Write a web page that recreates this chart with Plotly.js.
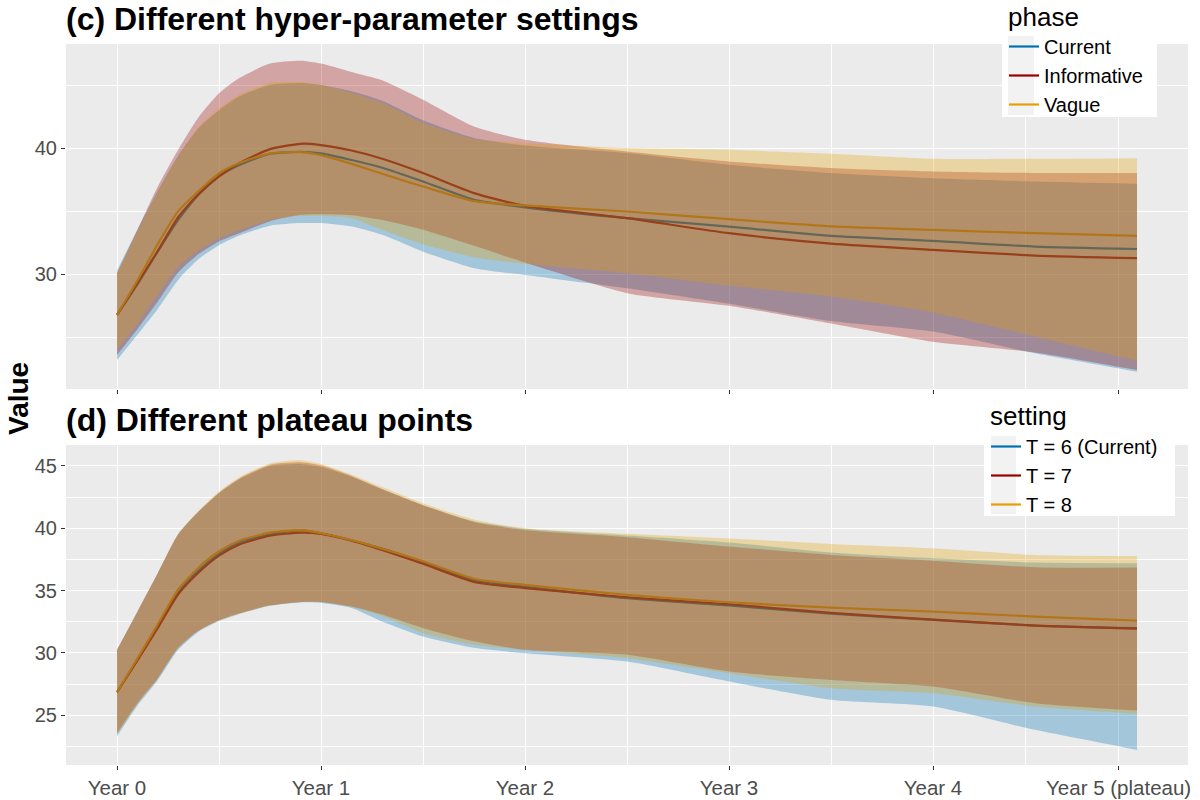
<!DOCTYPE html>
<html>
<head>
<meta charset="utf-8">
<script src="https://cdn.plot.ly/plotly-3.0.1.min.js"></script>
<style>body{margin:0;background:#fff}</style>
</head>
<body>
<div id="chart" style="width:1200px;height:800px"></div>
<script>
// time axis (years) and tick labels
var years = [0, 0.1, 0.2, 0.3, 0.4, 0.5, 0.6, 0.75, 0.9, 1.0, 1.15, 1.3, 1.5, 1.75, 2.0, 2.5, 3.0, 3.5, 4.0, 4.5, 5.0];
var tickVals = [0, 1, 2, 3, 4, 4.91];
var tickText = ['Year 0', 'Year 1', 'Year 2', 'Year 3', 'Year 4', 'Year 5 (plateau)'];

// (c) hyper-parameter settings: median, lower, upper
var cCurMid = [26.77, 29.2, 31.8, 34.3, 36.3, 37.75, 38.65, 39.55, 39.7, 39.58, 39.05, 38.44, 37.35, 35.9, 35.3, 34.44, 33.78, 33.04, 32.64, 32.19, 32.0];
var cCurLo  = [23.2, 25.2, 27.25, 29.55, 31.2, 32.3, 33.06, 33.85, 34.05, 34.05, 33.78, 33.12, 31.79, 30.48, 29.94, 28.89, 27.66, 26.29, 25.45, 23.73, 22.27];
var cCurHi  = [30.3, 33.55, 36.6, 39.4, 41.6, 43.0, 44.1, 45.0, 45.15, 45.0, 44.5, 43.75, 42.2, 40.8, 40.2, 39.6, 38.67, 38.02, 37.6, 37.35, 37.17];
var cInfMid = [26.77, 29.29, 31.85, 34.52, 36.37, 37.75, 38.81, 39.92, 40.34, 40.24, 39.81, 39.15, 38.02, 36.43, 35.42, 34.44, 33.25, 32.43, 31.93, 31.48, 31.27];
var cInfLo  = [23.6, 25.63, 27.83, 30.13, 31.6, 32.6, 33.25, 34.2, 34.71, 34.76, 34.68, 34.29, 33.52, 32.25, 30.92, 28.5, 27.5, 26.1, 24.65, 23.8, 22.4];
var cInfHi  = [30.08, 33.5, 36.95, 39.87, 42.45, 44.35, 45.56, 46.7, 46.93, 46.7, 46.03, 45.37, 43.83, 41.71, 40.66, 39.73, 38.94, 38.41, 38.14, 38.02, 38.02];
var cVagMid = [26.77, 29.5, 32.4, 35.0, 36.6, 38.0, 38.81, 39.58, 39.68, 39.44, 38.75, 37.96, 36.95, 35.79, 35.45, 34.97, 34.36, 33.8, 33.51, 33.25, 33.04];
var cVagLo  = [24.0, 26.1, 28.4, 30.6, 31.9, 32.85, 33.5, 34.3, 34.63, 34.63, 34.44, 33.52, 32.38, 31.35, 30.82, 30.08, 29.1, 28.23, 26.96, 25.06, 23.13];
var cVagHi  = [30.08, 33.38, 36.51, 39.33, 41.67, 43.15, 44.23, 45.16, 45.24, 45.02, 44.37, 43.57, 41.98, 40.71, 40.4, 40.0, 39.87, 39.55, 39.15, 39.15, 39.2];

// (d) plateau points: median, lower, upper
var dT6Mid = [26.84, 29.44, 32.11, 34.84, 36.6, 37.94, 38.85, 39.52, 39.85, 39.6, 39.04, 38.37, 37.3, 35.85, 35.32, 34.38, 33.8, 33.15, 32.65, 32.19, 31.98];
var dT6Lo  = [23.29, 25.75, 27.8, 30.25, 31.7, 32.55, 33.12, 33.78, 34.05, 34.0, 33.6, 32.51, 31.31, 30.4, 29.97, 29.3, 27.7, 26.23, 25.69, 23.82, 22.21];
var dT6Hi  = [30.24, 33.3, 36.39, 39.52, 41.34, 42.81, 43.93, 45.0, 45.16, 44.92, 44.14, 43.13, 41.85, 40.56, 39.95, 39.41, 38.85, 38.05, 37.59, 37.25, 37.19];
var dT7Mid = [26.84, 29.4, 32.0, 34.7, 36.45, 37.8, 38.7, 39.4, 39.65, 39.55, 39.0, 38.25, 37.15, 35.7, 35.2, 34.46, 33.9, 33.21, 32.67, 32.19, 31.95];
var dT7Lo  = [23.55, 25.96, 27.96, 30.4, 31.79, 32.62, 33.18, 33.82, 34.09, 34.09, 33.72, 33.07, 31.98, 30.93, 30.24, 29.84, 28.5, 27.83, 27.3, 25.96, 25.37];
var dT7Hi  = [30.24, 33.3, 36.39, 39.52, 41.34, 42.85, 44.0, 45.1, 45.3, 45.05, 44.2, 43.15, 41.85, 40.5, 39.85, 39.28, 38.53, 37.86, 37.4, 36.87, 36.84];
var dT8Mid = [26.84, 29.55, 32.3, 35.1, 36.85, 38.15, 39.0, 39.65, 39.85, 39.6, 39.05, 38.35, 37.35, 35.95, 35.45, 34.65, 34.06, 33.63, 33.31, 32.91, 32.59];
var dT8Lo  = [23.5, 25.9, 27.95, 30.4, 31.79, 32.6, 33.16, 33.8, 34.08, 34.08, 33.7, 32.95, 31.58, 30.67, 30.24, 29.57, 28.37, 27.16, 26.76, 25.69, 25.1];
var dT8Hi  = [30.24, 33.3, 36.4, 39.55, 41.4, 42.95, 44.1, 45.2, 45.45, 45.15, 44.3, 43.3, 42.0, 40.7, 40.0, 39.55, 39.17, 38.74, 38.39, 37.86, 37.78];

var phaseNames = ['Current', 'Informative', 'Vague'];
var settingNames = ['T = 6 (Current)', 'T = 7', 'T = 8'];

function BuildChart() {
    var cols = ['#0072B2', '#990000', '#E69F00'];
    var fills = ['rgba(0,114,178,0.3)', 'rgba(153,0,0,0.3)', 'rgba(230,159,0,0.3)'];
    var font = '"Liberation Sans", Arial, sans-serif';

    // paper coords from pixel position
    function px(x) { return (x - 66) / 1122; }
    function py(y) { return (765 - y) / 721; }

    var data = [];
    function addPanel(mids, los, his, names, xa, ya, lg) {
        // lines go first so the ribbons sit on top (as in the source)
        for (var i = 0; i < 3; i++) {
            data.push({x: years, y: mids[i], type: 'scatter', mode: 'lines', name: names[i],
                line: {color: cols[i], width: 2.2, shape: 'spline', smoothing: 0.6},
                xaxis: xa, yaxis: ya, legend: lg});
        }
        for (var j = 0; j < 3; j++) {
            data.push({x: years, y: los[j], type: 'scatter', mode: 'lines', showlegend: false,
                hoverinfo: 'skip', line: {width: 0, shape: 'spline', smoothing: 0.6}, xaxis: xa, yaxis: ya});
            data.push({x: years, y: his[j], type: 'scatter', mode: 'lines', showlegend: false,
                hoverinfo: 'skip', fill: 'tonexty', fillcolor: fills[j],
                line: {width: 0, shape: 'spline', smoothing: 0.6}, xaxis: xa, yaxis: ya});
        }
    }
    addPanel([cCurMid, cInfMid, cVagMid], [cCurLo, cInfLo, cVagLo], [cCurHi, cInfHi, cVagHi], phaseNames, 'x', 'y', 'legend');
    addPanel([dT6Mid, dT7Mid, dT8Mid], [dT6Lo, dT7Lo, dT8Lo], [dT6Hi, dT7Hi, dT8Hi], settingNames, 'x2', 'y2', 'legend2');

    var tickFont = {family: font, size: 20.5, color: '#4D4D4D'};
    var minorX = {tickmode: 'array', tickvals: [0.5, 1.5, 2.5, 3.5, 4.455], showgrid: true, gridcolor: '#FFFFFF', gridwidth: 0.7, ticks: ''};
    function xAxis(labels, anchor) {
        return {domain: [0, 1], anchor: anchor, range: [-0.25, 5.25], tickmode: 'array', tickvals: tickVals, ticktext: tickText,
            showticklabels: labels, ticks: 'outside', ticklen: 4, tickcolor: '#333333', tickfont: tickFont,
            showgrid: true, gridcolor: '#FFFFFF', gridwidth: 1.4, zeroline: false, showline: false, minor: minorX};
    }
    function yAxis(dom, rng, vals, minorVals, anchor) {
        return {domain: dom, anchor: anchor, range: rng, tickmode: 'array', tickvals: vals, ticks: 'outside', ticklen: 4,
            tickcolor: '#333333', tickfont: {family: font, size: 20, color: '#4D4D4D'}, showgrid: true, gridcolor: '#FFFFFF', gridwidth: 1.4,
            zeroline: false, showline: false,
            minor: {tickmode: 'array', tickvals: minorVals, showgrid: true, gridcolor: '#FFFFFF', gridwidth: 0.7, ticks: ''}};
    }

    var legendBase = {xanchor: 'left', yanchor: 'top', bgcolor: 'rgba(0,0,0,0)', borderwidth: 0, traceorder: 'normal',
        font: {family: font, size: 20, color: '#000000'}, tracegroupgap: 0};

    var layout = {
        width: 1200, height: 800,
        margin: {l: 66, r: 12, t: 44, b: 35},
        paper_bgcolor: '#FFFFFF', plot_bgcolor: '#EBEBEB',
        font: {family: font},
        xaxis: xAxis(false, 'y'),
        yaxis: yAxis([py(389), 1], [20.9, 48.25], [30, 40], [25, 35, 45], 'x'),
        xaxis2: xAxis(true, 'y2'),
        yaxis2: yAxis([0, py(445)], [21.0, 46.68], [25, 30, 35, 40, 45], [22.5, 27.5, 32.5, 37.5, 42.5], 'x2'),
        legend: Object.assign({}, legendBase, {x: px(1004), y: py(27)}),
        legend2: Object.assign({}, legendBase, {x: px(986), y: py(427)}),
        shapes: [
            {type: 'rect', xref: 'paper', yref: 'paper', x0: px(1002), x1: px(1157), y0: py(117), y1: py(33), fillcolor: '#FFFFFF', line: {width: 0}, layer: 'above'},
            {type: 'rect', xref: 'paper', yref: 'paper', x0: px(1008), x1: px(1034), y0: py(115), y1: py(36), fillcolor: '#F2F2F2', line: {width: 0}, layer: 'above'},
            {type: 'rect', xref: 'paper', yref: 'paper', x0: px(984), x1: px(1175), y0: py(516), y1: py(434), fillcolor: '#FFFFFF', line: {width: 0}, layer: 'above'},
            {type: 'rect', xref: 'paper', yref: 'paper', x0: px(991), x1: px(1016), y0: py(514), y1: py(436), fillcolor: '#F2F2F2', line: {width: 0}, layer: 'above'}
        ],
        annotations: [
            {xref: 'paper', yref: 'paper', x: -0.002, y: py(19), xanchor: 'left', yanchor: 'middle', showarrow: false,
                text: '<b>(c) Different hyper-parameter settings</b>', font: {family: font, size: 32, color: '#000'}},
            {xref: 'paper', yref: 'paper', x: -0.002, y: py(420), xanchor: 'left', yanchor: 'middle', showarrow: false,
                text: '<b>(d) Different plateau points</b>', font: {family: font, size: 32, color: '#000'}},
            {xref: 'paper', yref: 'paper', x: px(18), y: py(399), xanchor: 'center', yanchor: 'middle', showarrow: false,
                textangle: -90, text: '<b>Value</b>', font: {family: font, size: 28, color: '#000'}},
            {xref: 'paper', yref: 'paper', x: px(1006), y: py(17), xanchor: 'left', yanchor: 'middle', showarrow: false,
                text: 'phase', font: {family: font, size: 26, color: '#000'}},
            {xref: 'paper', yref: 'paper', x: px(988), y: py(416), xanchor: 'left', yanchor: 'middle', showarrow: false,
                text: 'setting', font: {family: font, size: 26, color: '#000'}}
        ]
    };

    Plotly.newPlot('chart', data, layout, {displayModeBar: false});
}

BuildChart();
</script>
</body>
</html>
